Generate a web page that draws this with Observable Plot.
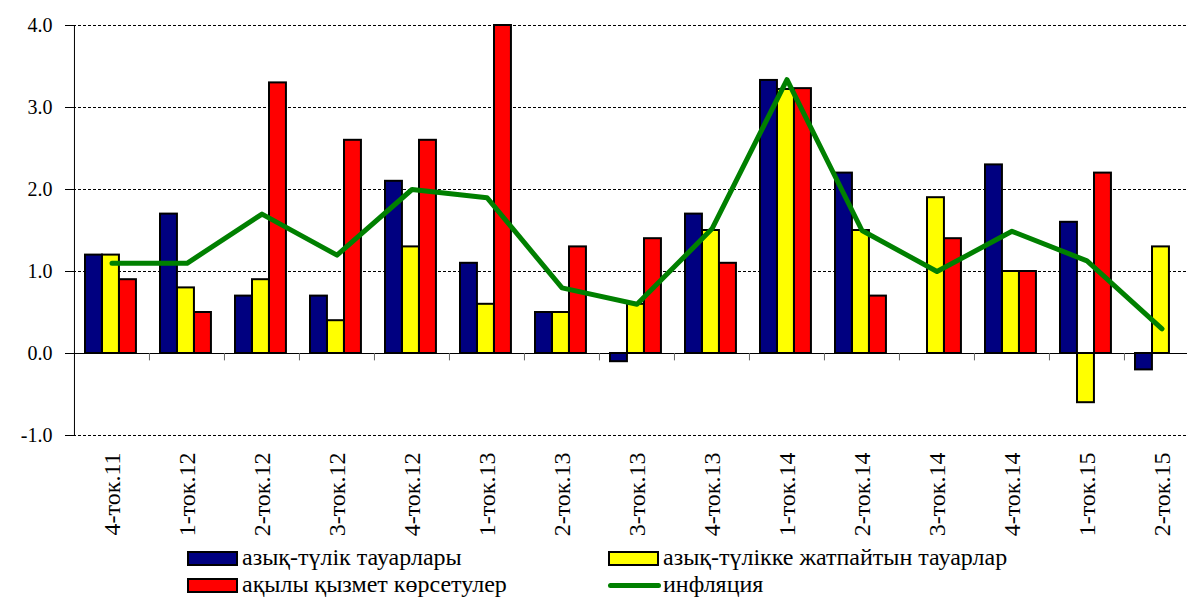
<!DOCTYPE html>
<html>
<head>
<meta charset="utf-8">
<script src="https://cdn.jsdelivr.net/npm/d3@7"></script>
<script src="https://cdn.jsdelivr.net/npm/@observablehq/plot@0.6"></script>
<style>
  html, body { margin: 0; padding: 0; background: #fff; overflow: hidden; }
  #wrap { position: relative; width: 1187px; height: 600px; overflow: hidden; font-family: "Liberation Serif", "Tinos", "Times New Roman", "DejaVu Serif", "Noto Serif", serif; }
  #chart { position: absolute; left: 0; top: 0; }
  .lg { position: absolute; font-size: 24px; line-height: 24px; color: #000; white-space: nowrap; }
  .sw { position: absolute; box-sizing: border-box; width: 51px; height: 15px; border: 2px solid #000; }
  .ln { position: absolute; width: 53px; height: 5px; border-radius: 3px; }
</style>
</head>
<body>
<div id="wrap">
  <div id="chart"></div>
  <div id="legend"></div>
</div>
<script>
const categories = ["4-ток.11","1-ток.12","2-ток.12","3-ток.12","4-ток.12","1-ток.13","2-ток.13","3-ток.13","4-ток.13","1-ток.14","2-ток.14","3-ток.14","4-ток.14","1-ток.15","2-ток.15"];
const food      = [1.2, 1.7, 0.7, 0.7, 2.1, 1.1, 0.5, -0.1, 1.7, 3.33, 2.2, null, 2.3, 1.6, -0.2];
const nonFood   = [1.2, 0.8, 0.9, 0.4, 1.3, 0.6, 0.5, 0.6, 1.5, 3.22, 1.5, 1.9, 1.0, -0.6, 1.3];
const services  = [0.9, 0.5, 3.3, 2.6, 2.6, 4.0, 1.3, 1.4, 1.1, 3.23, 0.7, 1.4, 1.0, 2.2, null];
const inflation = [1.1, 1.1, 1.7, 1.2, 2.0, 1.9, 0.8, 0.6, 1.52, 3.34, 1.5, 1.0, 1.49, 1.13, 0.3];
const yTicks = [-1, 0, 1, 2, 3, 4];
const seriesNames = ["азық-түлік тауарлары", "азық-түлікке жатпайтын тауарлар", "ақылы қызмет көрсетулер", "инфляция"];
const seriesColors = ["#000080", "#FFFF00", "#FF0000", "#008000"];

const rows = (vals) => categories.map((c, i) => ({cat: c, v: vals[i]})).filter(d => d.v != null);

const x0 = 73, x1 = 1199;
const step = (x1 - x0) / categories.length;
const serif = "'Liberation Serif', 'Tinos', 'Times New Roman', 'DejaVu Serif', 'Noto Serif', serif";

const plot = Plot.plot({
  width: 1187,
  height: 540,
  marginLeft: 73,
  marginRight: 0,
  marginTop: 25,
  marginBottom: 105,
  style: {fontFamily: serif, fontSize: "20px", color: "#000", background: "#fff"},
  x: {domain: categories, range: [x0, x1], padding: 0},
  y: {domain: [-1, 4]},
  marks: [
    Plot.ruleY(yTicks.filter(t => t !== 0), {stroke: "#000", strokeWidth: 1, strokeDasharray: "3,2"}),
    Plot.barY(rows(food), {x: "cat", y: "v", fill: seriesColors[0], stroke: "#000", strokeWidth: 2, insetLeft: 11, insetRight: step - 28}),
    Plot.barY(rows(nonFood), {x: "cat", y: "v", fill: seriesColors[1], stroke: "#000", strokeWidth: 2, insetLeft: 28, insetRight: step - 45}),
    Plot.barY(rows(services), {x: "cat", y: "v", fill: seriesColors[2], stroke: "#000", strokeWidth: 2, insetLeft: 45, insetRight: step - 62}),
    Plot.ruleY([0], {stroke: "#000", strokeWidth: 1}),
    Plot.ruleX(categories.slice(1), {x: d => d, dx: -step / 2, y1: 0, y2: -0.09, stroke: "#666", strokeWidth: 1}),
    Plot.ruleX([categories[0]], {x: d => d, dx: -step / 2, y1: -1, y2: 4, stroke: "#000", strokeWidth: 1}),
    Plot.line(rows(inflation), {x: "cat", y: "v", stroke: seriesColors[3], strokeWidth: 5, strokeLinejoin: "round", strokeLinecap: "round"}),
    Plot.axisX({tickSize: 0, tickRotate: -90, tickPadding: 17, fontSize: 24, label: null}),
    Plot.axisY({ticks: yTicks, tickFormat: d => d.toFixed(1), tickSize: 8, tickPadding: 13, fontSize: 20, label: null})
  ]
});
document.getElementById("chart").appendChild(plot);

// legend
const rowTops = [545, 572];
const legendPos = [
  {left: 187, row: 0, type: "sw"},
  {left: 608, row: 0, type: "sw"},
  {left: 187, row: 1, type: "sw"},
  {left: 608, row: 1, type: "ln"}
];
const lg = document.getElementById("legend");
seriesNames.forEach((name, i) => {
  const p = legendPos[i];
  const top = rowTops[p.row];
  const mid = top + 13;
  const sw = document.createElement("div");
  sw.className = p.type;
  sw.style.left = p.left + "px";
  sw.style.top = (p.type === "sw" ? mid - 7 : mid - 2) + "px";
  sw.style.background = seriesColors[i];
  lg.appendChild(sw);
  const t = document.createElement("div");
  t.className = "lg";
  t.textContent = name;
  t.style.left = (p.left + 55) + "px";
  t.style.top = top + "px";
  lg.appendChild(t);
});
</script>
</body>
</html>
